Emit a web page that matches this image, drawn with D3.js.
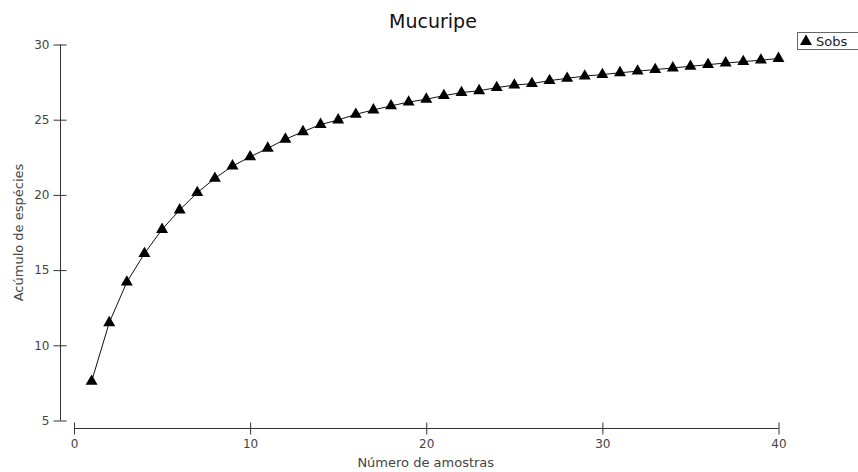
<!DOCTYPE html>
<html>
<head>
<meta charset="utf-8">
<script src="https://cdn.jsdelivr.net/npm/d3@7"></script>
<style>
  html, body { margin: 0; padding: 0; background: #fff; }
  svg { display: block; }
  text { font-family: "DejaVu Sans", sans-serif; }
</style>
</head>
<body>
<svg id="chart" width="858" height="472"></svg>
<script>
const title = "Mucuripe";
const xLabel = "Número de amostras";
const yLabel = "Acúmulo de espécies";
const seriesName = "Sobs";
const samples = d3.range(1, 41);
const sobs = [7.6, 11.5, 14.2, 16.1, 17.7, 19.0, 20.15, 21.1, 21.92, 22.53,
              23.1, 23.7, 24.2, 24.68, 24.98, 25.36, 25.65, 25.92, 26.17, 26.36,
              26.6, 26.8, 26.93, 27.13, 27.3, 27.4, 27.6, 27.75, 27.9, 28.0,
              28.12, 28.23, 28.33, 28.44, 28.55, 28.66, 28.77, 28.86, 28.96, 29.07];
const xTicks = [0, 10, 20, 30, 40];
const yTicks = [5, 10, 15, 20, 25, 30];

const svg = d3.select("#chart");
const axisColor = "#333";
const textColor = "#444";

const x = d3.scaleLinear().domain([0, 40]).range([74, 778.5]);
const y = d3.scaleLinear().domain([5, 30]).range([420.5, 44.5]);

// Y axis
const gy = svg.append("g").attr("transform", "translate(60.5,0)")
  .call(d3.axisLeft(y).tickValues(yTicks).tickSize(7).tickPadding(4));
gy.select(".domain").attr("d", `M0,${y(5)}V${y(30)}`).attr("stroke", axisColor);
gy.selectAll(".tick line").attr("x1", -7).attr("x2", 6).attr("stroke", axisColor);
gy.selectAll(".tick text").attr("font-size", 12).attr("fill", textColor)
  .attr("font-family", "DejaVu Sans");

// X axis
const gx = svg.append("g").attr("transform", "translate(0,428.5)")
  .call(d3.axisBottom(x).tickValues(xTicks).tickSize(6).tickPadding(5));
gx.select(".domain").attr("d", `M${x(0)},0H${x(40)}`).attr("stroke", axisColor);
gx.selectAll(".tick line").attr("y1", -6).attr("y2", 6).attr("stroke", axisColor);
gx.selectAll(".tick text").attr("font-size", 12).attr("fill", textColor)
  .attr("font-family", "DejaVu Sans");

// Titles
svg.append("text").attr("x", 433).attr("y", 28).attr("text-anchor", "middle")
  .attr("font-size", 19).attr("font-family", "Liberation Sans, Arial, sans-serif")
  .attr("fill", "#111").text(title);
svg.append("text").attr("x", (x(0) + x(40)) / 2 - 0.5).attr("y", 467).attr("text-anchor", "middle")
  .attr("font-size", 13).attr("fill", textColor).text(xLabel);
svg.append("text").attr("transform", `translate(23,${(y(5) + y(30)) / 2}) rotate(-90)`)
  .attr("text-anchor", "middle").attr("font-size", 13).attr("fill", textColor).text(yLabel);

// Line
const data = samples.map((s, i) => ({ s, v: sobs[i] }));
svg.append("path").datum(data)
  .attr("fill", "none").attr("stroke", "#111").attr("stroke-width", 1)
  .attr("d", d3.line().x(d => x(d.s)).y(d => y(d.v)));

// Markers
const tri = d3.symbol().type(d3.symbolTriangle).size(62);
svg.append("g").selectAll("path").data(data).join("path")
  .attr("transform", d => `translate(${x(d.s)},${y(d.v)})`)
  .attr("d", tri).attr("fill", "#000");

// Legend
const lg = svg.append("g");
lg.append("rect").attr("x", 797.5).attr("y", 32.5).attr("width", 61).attr("height", 17)
  .attr("fill", "#fff").attr("stroke", "#666");
lg.append("path").attr("transform", "translate(806,41.5)").attr("d", tri).attr("fill", "#000");
lg.append("text").attr("x", 816).attr("y", 46).attr("font-size", 13).attr("fill", "#222").text(seriesName);
</script>
</body>
</html>
